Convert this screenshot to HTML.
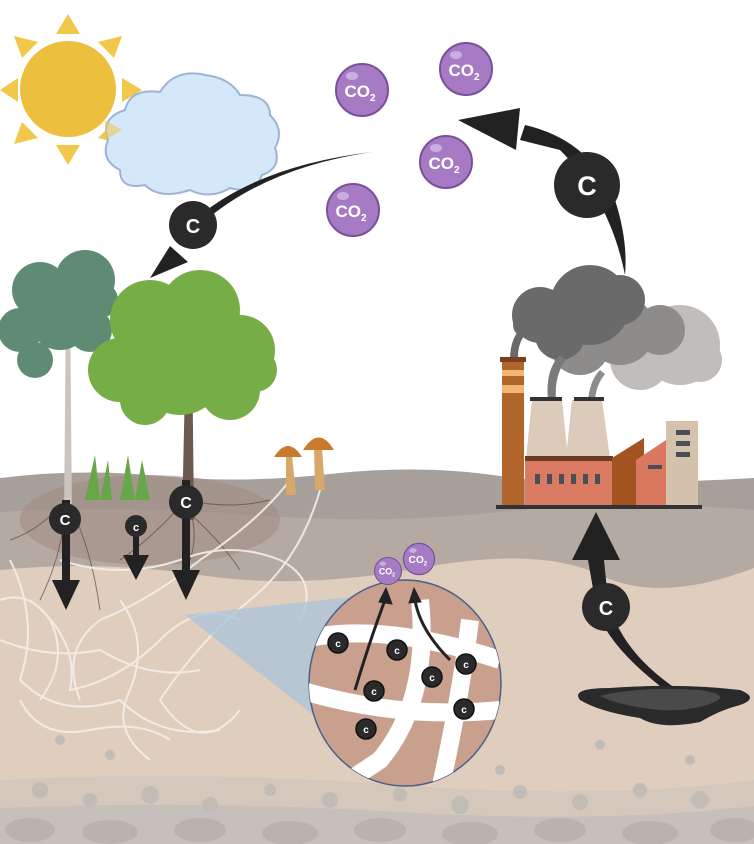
<!DOCTYPE html>
<html><head><meta charset="utf-8"><style>
html,body{margin:0;padding:0;background:#fff;}
svg{display:block;}
text{font-family:"Liberation Sans",sans-serif;font-weight:bold;}
</style></head><body>
<svg width="754" height="844" viewBox="0 0 754 844" xmlns="http://www.w3.org/2000/svg">
<defs>
<g id="co2"><circle r="26" fill="#a67bc4" stroke="#7a4f9b" stroke-width="2"/><ellipse cx="-10" cy="-14" rx="6" ry="4" fill="#c9aee0"/><text x="-2" y="7" text-anchor="middle" font-size="17" fill="#fff">CO<tspan font-size="10" dy="4">2</tspan></text></g>
<g id="cs"><circle r="10" fill="#2a2a2a" stroke="#111" stroke-width="1.5"/><text y="4" text-anchor="middle" font-size="10" fill="#fff" font-weight="normal">c</text></g>
</defs>
<rect width="754" height="844" fill="#fff"/>
<!-- ground layers -->
<path d="M0 478 Q80 468 160 476 T330 474 T500 476 T754 478 V844 H0Z" fill="#a7a09a"/>
<path d="M0 512 Q120 505 250 515 T500 512 T754 510 V844 H0Z" fill="#b4aaa2"/>
<path d="M0 570 Q100 560 200 575 T420 568 T600 575 T754 568 V844 H0Z" fill="#dfcdbd"/>
<path d="M0 780 Q200 770 400 785 T754 780 V844 H0Z" fill="#d4c8bd"/>
<path d="M0 808 Q200 800 400 812 T754 806 V844 H0Z" fill="#c5c0bb"/>
<g fill="#c2bcb6">
<circle cx="40" cy="790" r="8"/><circle cx="90" cy="800" r="7"/><circle cx="150" cy="795" r="9"/><circle cx="210" cy="805" r="8"/><circle cx="270" cy="790" r="6"/><circle cx="330" cy="800" r="8"/><circle cx="400" cy="795" r="7"/><circle cx="460" cy="805" r="9"/><circle cx="520" cy="792" r="7"/><circle cx="580" cy="802" r="8"/><circle cx="640" cy="790" r="7"/><circle cx="700" cy="800" r="9"/><circle cx="60" cy="740" r="5"/><circle cx="110" cy="755" r="5"/><circle cx="600" cy="745" r="5"/><circle cx="690" cy="760" r="5"/><circle cx="500" cy="770" r="5"/>
</g>
<g fill="#b8b3ae"><ellipse cx="30" cy="830" rx="25" ry="12"/><ellipse cx="110" cy="832" rx="28" ry="12"/><ellipse cx="200" cy="830" rx="26" ry="12"/><ellipse cx="290" cy="833" rx="28" ry="12"/><ellipse cx="380" cy="830" rx="26" ry="12"/><ellipse cx="470" cy="834" rx="28" ry="12"/><ellipse cx="560" cy="830" rx="26" ry="12"/><ellipse cx="650" cy="833" rx="28" ry="12"/><ellipse cx="735" cy="830" rx="25" ry="12"/></g>
<!-- roots area -->
<ellipse cx="150" cy="520" rx="130" ry="45" fill="#a28e83" opacity="0.6"/>
<g fill="none" stroke="#5a4a42" stroke-width="1" opacity="0.7">
<path d="M66 500 Q40 530 10 540"/><path d="M66 500 Q90 540 100 610"/><path d="M66 510 Q60 560 40 600"/><path d="M186 500 Q230 510 270 500"/><path d="M186 500 Q150 540 120 560"/><path d="M186 510 Q220 540 240 570"/><path d="M186 500 Q200 530 190 560"/>
</g>
<!-- fungal hyphae -->
<g fill="none" stroke="#f4efe9" stroke-width="2" opacity="0.9">
<path d="M10 560 Q40 620 20 680 Q60 720 120 700 Q160 740 220 730"/>
<path d="M30 600 Q80 640 70 690 Q120 680 160 640 Q200 600 240 620"/>
<path d="M290 480 Q260 520 200 560 Q150 600 100 620 Q60 650 80 700"/>
<path d="M320 490 Q300 560 250 600 Q200 640 160 700 Q200 760 240 710"/>
<path d="M0 640 Q50 660 100 650 Q150 680 200 670"/>
<path d="M60 560 Q120 580 180 560 Q230 540 280 560 Q320 580 300 620"/>
<path d="M20 700 Q40 740 90 730 Q140 720 170 740"/>
<path d="M120 600 Q150 640 130 690 Q110 730 150 760"/>
<path d="M0 600 Q30 590 50 620 Q70 660 40 700"/>
</g>
<!-- trees -->
<path d="M66 300 L70 300 L72 520 L64 520Z" fill="#ccc5bf"/>
<path d="M186 340 L192 340 L194 520 L182 520Z" fill="#6b5a4e"/>
<g fill="#5f8b74">
<circle cx="40" cy="290" r="28"/><circle cx="85" cy="280" r="30"/><circle cx="20" cy="330" r="22"/><circle cx="60" cy="320" r="30"/><circle cx="90" cy="330" r="22"/><circle cx="35" cy="360" r="18"/><circle cx="100" cy="300" r="18"/>
</g>
<g fill="#76ad46">
<circle cx="150" cy="320" r="40"/><circle cx="200" cy="310" r="40"/><circle cx="240" cy="350" r="35"/><circle cx="120" cy="370" r="32"/><circle cx="180" cy="370" r="45"/><circle cx="230" cy="390" r="30"/><circle cx="145" cy="400" r="25"/><circle cx="255" cy="370" r="22"/>
</g>
<g fill="#68a64a"><path d="M85 500 L95 455 L100 500 L108 460 L112 500Z"/><path d="M120 500 L128 455 L135 500 L142 460 L150 500Z"/></g>
<!-- mushrooms -->
<path d="M286 455 L292 455 L296 495 L286 495Z" fill="#d8a76a"/><path d="M274 457 Q288 435 302 457Z" fill="#c97a2c"/>
<path d="M314 448 L322 448 L325 490 L315 490Z" fill="#d8a76a"/><path d="M303 450 Q319 425 334 450Z" fill="#c97a2c"/>
<!-- tree arrows -->
<g fill="#222">
<rect x="62" y="500" width="8" height="85"/><path d="M52 580 H80 L66 610Z"/>
<rect x="133" y="520" width="6" height="40"/><path d="M123 555 H149 L136 580Z"/>
<rect x="182" y="480" width="8" height="95"/><path d="M172 570 H200 L186 600Z"/>
</g>
<g><circle cx="65" cy="519" r="16" fill="#2a2a2a"/><text x="65" y="525" text-anchor="middle" font-size="15" fill="#fff" font-weight="normal">C</text>
<circle cx="136" cy="526" r="11" fill="#2a2a2a"/><text x="136" y="531" text-anchor="middle" font-size="11" fill="#fff" font-weight="normal">c</text>
<circle cx="186" cy="502" r="17" fill="#2a2a2a"/><text x="186" y="508" text-anchor="middle" font-size="16" fill="#fff" font-weight="normal">C</text></g>
<!-- zoom cone -->
<path d="M185 615 L370 595 L320 720Z" fill="#a9c3d9" opacity="0.75"/>
<!-- zoom circle -->
<ellipse cx="405" cy="683" rx="96" ry="103" fill="#c9a08e" stroke="#4a5f8a" stroke-width="1.5"/>
<clipPath id="zc"><ellipse cx="405" cy="683" rx="96" ry="103"/></clipPath>
<g clip-path="url(#zc)" fill="none" stroke="#fff" stroke-width="18">
<path d="M300 640 Q380 620 500 660"/>
<path d="M300 690 Q400 720 500 710"/>
<path d="M420 600 Q430 700 380 760 Q350 780 320 800"/>
<path d="M470 620 Q460 700 440 790"/>
</g>
<g fill="#222" stroke="#222">
<path d="M355 690 Q370 640 385 600" fill="none" stroke-width="3"/><path d="M379 602 L386 588 L392 604Z"/>
<path d="M450 660 Q420 630 415 600" fill="none" stroke-width="3"/><path d="M409 603 L414 588 L421 602Z"/>
</g>
<use href="#cs" x="338" y="643"/><use href="#cs" x="397" y="650"/><use href="#cs" x="432" y="677"/><use href="#cs" x="466" y="664"/><use href="#cs" x="374" y="691"/><use href="#cs" x="464" y="709"/><use href="#cs" x="366" y="729"/>
<g transform="translate(388,571) scale(0.52)"><use href="#co2"/></g>
<g transform="translate(419,559) scale(0.6)"><use href="#co2"/></g>
<!-- sun -->
<g fill="#f2c84a"><path d="M68 14 L80 34 L56 34Z"/><path d="M68 165 L80 145 L56 145Z"/><path d="M0 90 L18 78 L18 102Z"/><path d="M142 90 L122 78 L122 102Z"/><path d="M14 36 L38 42 L22 58Z"/><path d="M122 36 L98 42 L114 58Z"/><path d="M14 144 L38 138 L22 122Z"/><path d="M122 144 L98 138 L114 122Z"/></g>
<circle cx="68" cy="89" r="48" fill="#ecc03e"/>
<!-- cloud -->
<g fill="#d4e8fa" stroke="#9eb4d6" stroke-width="2">
<path d="M120 170 Q100 160 108 140 Q100 118 125 110 Q130 88 160 92 Q175 68 205 75 Q230 78 240 95 Q270 95 270 115 Q285 130 275 148 Q282 168 262 175 Q255 195 230 188 Q210 200 190 190 Q160 200 145 185 Q120 190 120 170Z"/>
</g>
<path d="M105 120 L122 130 L105 140Z" fill="#e6c95c" opacity="0.6"/>
<!-- co2 bubbles -->
<use href="#co2" x="362" y="90"/><use href="#co2" x="466" y="69"/><use href="#co2" x="446" y="162"/><use href="#co2" x="353" y="210"/>
<!-- arrow sky to tree -->
<path d="M372 152 Q250 170 185 240 L178 236 Q240 168 372 152Z" fill="#222"/>
<path d="M150 278 L170 246 L188 262Z" fill="#222"/>
<circle cx="193" cy="225" r="24" fill="#2a2a2a"/><text x="193" y="233" text-anchor="middle" font-size="20" fill="#fff" font-weight="normal">C</text>
<!-- arrow factory to sky -->
<path d="M625 275 Q610 200 560 150 L520 140 L525 125 Q590 140 615 200 Q628 240 625 275Z" fill="#222"/>
<path d="M458 120 L520 108 L516 150Z" fill="#222"/>
<circle cx="587" cy="185" r="33" fill="#2a2a2a"/><text x="587" y="195" text-anchor="middle" font-size="27" fill="#fff" font-weight="normal">C</text>
<!-- smoke -->
<g fill="#c0bdbb"><circle cx="680" cy="345" r="40"/><circle cx="640" cy="360" r="30"/><circle cx="700" cy="360" r="22"/></g>
<g fill="#8e8c8a"><circle cx="620" cy="330" r="35"/><circle cx="580" cy="345" r="30"/><circle cx="660" cy="330" r="25"/></g>
<g fill="#6a6a6a"><circle cx="540" cy="315" r="28"/><circle cx="590" cy="305" r="40"/><circle cx="620" cy="300" r="25"/><circle cx="560" cy="335" r="25"/><circle cx="525" cy="325" r="12"/></g>
<path d="M510 360 Q510 335 525 325 L530 330 Q517 340 518 360Z" fill="#6a6a6a"/>
<path d="M548 400 Q545 370 560 355 L566 360 Q554 375 556 400Z" fill="#7a7a7a"/>
<path d="M588 400 Q590 380 600 370 L605 374 Q596 385 595 400Z" fill="#8e8c8a"/>
<!-- factory -->
<rect x="502" y="360" width="22" height="146" fill="#b1652a"/><rect x="500" y="357" width="26" height="5" fill="#7a3f1d"/>
<rect x="502" y="370" width="22" height="6" fill="#f1b773"/><rect x="502" y="385" width="22" height="8" fill="#f1b773"/>
<path d="M532 400 L562 400 L568 458 L526 458Z" fill="#dccabb"/><path d="M572 400 L602 400 L610 458 L566 458Z" fill="#dccabb"/>
<rect x="530" y="397" width="32" height="4" fill="#333"/><rect x="574" y="397" width="30" height="4" fill="#333"/>
<rect x="525" y="458" width="88" height="48" fill="#d97a62"/><rect x="525" y="456" width="88" height="5" fill="#6b3a25"/>
<g fill="#4a4f57"><rect x="535" y="474" width="5" height="10"/><rect x="547" y="474" width="5" height="10"/><rect x="559" y="474" width="5" height="10"/><rect x="571" y="474" width="5" height="10"/><rect x="583" y="474" width="5" height="10"/><rect x="595" y="474" width="5" height="10"/></g>
<path d="M612 458 L644 438 L644 506 L612 506Z" fill="#a3531f"/>
<path d="M636 460 L666 440 L666 506 L636 506Z" fill="#d9785e"/>
<rect x="666" y="421" width="32" height="85" fill="#d5c2ad"/>
<g fill="#4a4f57"><rect x="676" y="430" width="14" height="5"/><rect x="676" y="441" width="14" height="5"/><rect x="676" y="452" width="14" height="5"/><rect x="648" y="465" width="14" height="4"/></g>
<rect x="496" y="505" width="206" height="4" fill="#333"/>
<!-- oil pool arrow -->
<path d="M665 690 Q600 640 595 600 L588 560 L604 560 L608 600 Q620 650 675 688Z" fill="#222"/>
<path d="M572 560 L596 512 L620 560Z" fill="#222"/>
<circle cx="606" cy="607" r="24" fill="#2a2a2a"/><text x="606" y="615" text-anchor="middle" font-size="20" fill="#fff" font-weight="normal">C</text>
<!-- oil pool -->
<path d="M580 700 Q570 688 610 688 Q680 683 740 690 Q760 698 740 705 Q720 710 700 722 Q660 730 640 718 Q600 712 580 700Z" fill="#2a2a2a"/>
<path d="M600 696 Q640 686 700 690 Q730 694 715 702 Q690 712 660 710 Q620 706 600 696Z" fill="#4a4a4a"/>
</svg>
</body></html>
